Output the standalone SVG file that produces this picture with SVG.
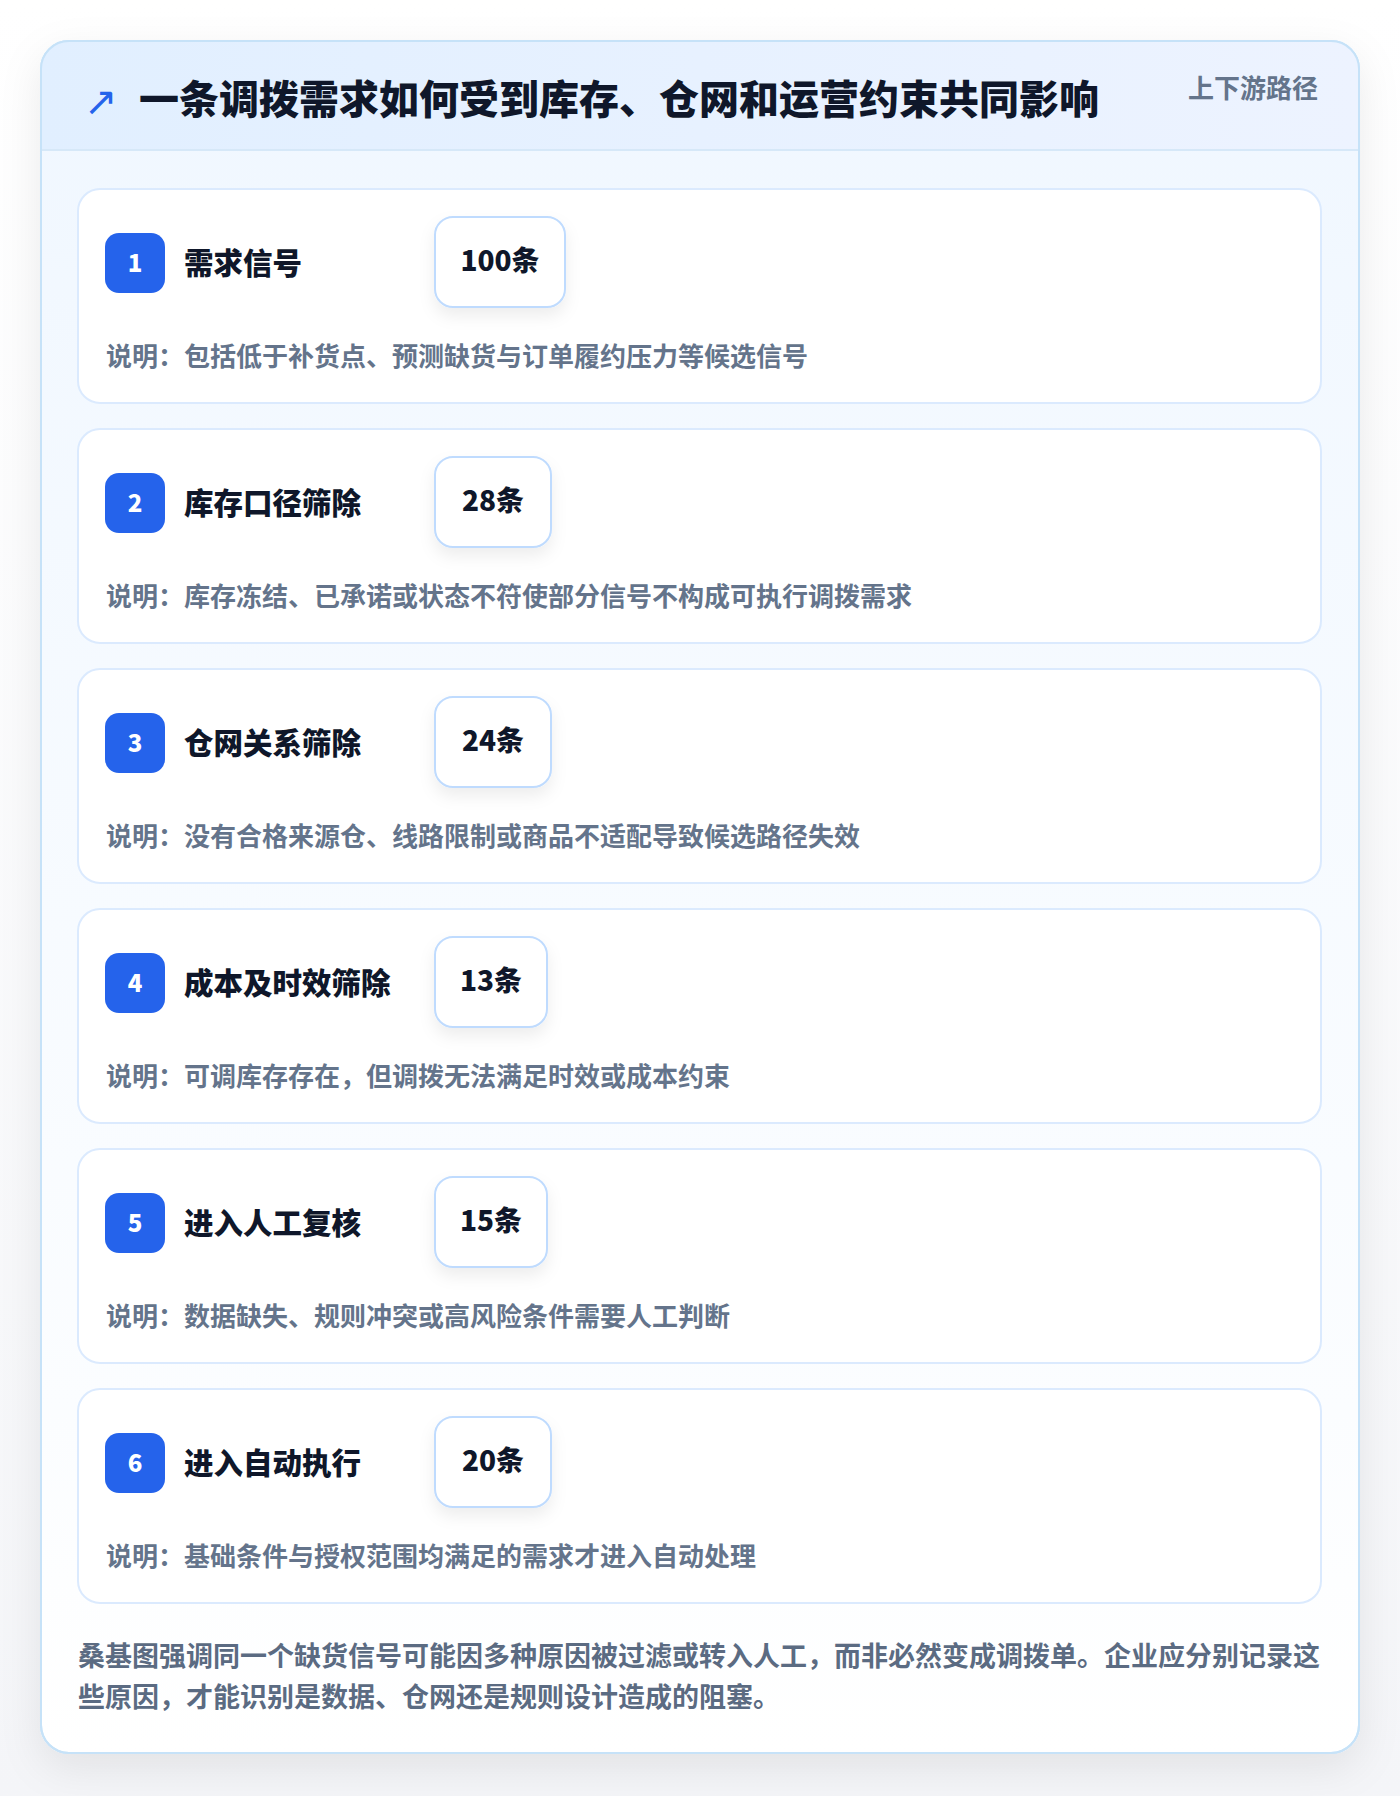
<svg xmlns="http://www.w3.org/2000/svg" width="1400" height="1796" viewBox="0 0 1400 1796">
<defs>
<linearGradient id="pageBg" x1="0" y1="0" x2="0" y2="1"><stop offset="0" stop-color="#ffffff"/><stop offset="1" stop-color="#f4f5f8"/></linearGradient>
<linearGradient id="hdrBg" x1="0" y1="0" x2="1" y2="0"><stop offset="0" stop-color="#e1efff"/><stop offset="1" stop-color="#edf3ff"/></linearGradient>
<linearGradient id="bodyBg" x1="0" y1="0" x2="0" y2="1"><stop offset="0" stop-color="#f0f7ff"/><stop offset="0.8" stop-color="#fbfdff"/><stop offset="1" stop-color="#ffffff"/></linearGradient>
<filter id="cardShadow" x="-10%" y="-10%" width="120%" height="120%"><feDropShadow dx="0" dy="14" stdDeviation="20" flood-color="#0f172a" flood-opacity="0.08"/></filter>
<filter id="boxShadow" x="-30%" y="-30%" width="160%" height="170%"><feDropShadow dx="0" dy="8" stdDeviation="8" flood-color="#0f172a" flood-opacity="0.07"/></filter>
<clipPath id="cardClip"><rect x="41" y="41" width="1318" height="1712" rx="28"/></clipPath>
</defs>
<style>
text{font-family:"Noto Sans CJK SC","Noto Sans",sans-serif;font-weight:700}
.title{font-size:40px;fill:#0f172a;font-weight:900}
.tag{font-size:26px;fill:#64748b}
.step{fill:#ffffff;stroke:#dbeafe;stroke-width:2}
.badge{fill:#2563eb}
.num{font-size:24px;fill:#ffffff;font-weight:900}
.stitle{font-size:29.5px;fill:#0f172a;font-weight:900}
.cbox{fill:#ffffff;stroke:#bfdbfe;stroke-width:2}
.count{font-size:28px;fill:#0f172a;font-weight:900}
.desc{font-size:26px;fill:#64748b}
.foot{font-size:27px;fill:#5b6b82}
</style>
<rect x="0" y="0" width="1400" height="1796" fill="url(#pageBg)"/>
<g id="card">
<rect x="41" y="41" width="1318" height="1712" rx="28" fill="url(#bodyBg)" stroke="#c6e2f8" stroke-width="2" filter="url(#cardShadow)"/>
<g clip-path="url(#cardClip)">
<rect x="41" y="41" width="1318" height="110" fill="url(#hdrBg)"/>
<line x1="41" y1="150" x2="1359" y2="150" stroke="#d6e8f8" stroke-width="2"/>
</g>
<rect x="41" y="41" width="1318" height="1712" rx="28" fill="none" stroke="#c6e2f8" stroke-width="2"/>
</g>
<g id="header">
<text x="84" y="115" style="font-family:'DejaVu Sans',sans-serif;font-size:40px;fill:#2563eb;font-weight:400">↗</text>
<text class="title" x="139" y="114">一条调拨需求如何受到库存、仓网和运营约束共同影响</text>
<text class="tag" x="1318" y="98" text-anchor="end">上下游路径</text>
</g>
<g id="step1">
<rect class="step" x="78" y="189" width="1243" height="214" rx="22"/>
<rect class="badge" x="105" y="233" width="60" height="60" rx="14"/>
<text class="num" x="135" y="272" text-anchor="middle">1</text>
<text class="stitle" x="184" y="274">需求信号</text>
<rect class="cbox" x="435" y="217" width="130" height="90" rx="18" filter="url(#boxShadow)"/>
<text class="count" x="500" y="271" text-anchor="middle">100条</text>
<text class="desc" x="106" y="366">说明：包括低于补货点、预测缺货与订单履约压力等候选信号</text>
</g>
<g id="step2">
<rect class="step" x="78" y="429" width="1243" height="214" rx="22"/>
<rect class="badge" x="105" y="473" width="60" height="60" rx="14"/>
<text class="num" x="135" y="512" text-anchor="middle">2</text>
<text class="stitle" x="184" y="514">库存口径筛除</text>
<rect class="cbox" x="435" y="457" width="116" height="90" rx="18" filter="url(#boxShadow)"/>
<text class="count" x="493" y="511" text-anchor="middle">28条</text>
<text class="desc" x="106" y="606">说明：库存冻结、已承诺或状态不符使部分信号不构成可执行调拨需求</text>
</g>
<g id="step3">
<rect class="step" x="78" y="669" width="1243" height="214" rx="22"/>
<rect class="badge" x="105" y="713" width="60" height="60" rx="14"/>
<text class="num" x="135" y="752" text-anchor="middle">3</text>
<text class="stitle" x="184" y="754">仓网关系筛除</text>
<rect class="cbox" x="435" y="697" width="116" height="90" rx="18" filter="url(#boxShadow)"/>
<text class="count" x="493" y="751" text-anchor="middle">24条</text>
<text class="desc" x="106" y="846">说明：没有合格来源仓、线路限制或商品不适配导致候选路径失效</text>
</g>
<g id="step4">
<rect class="step" x="78" y="909" width="1243" height="214" rx="22"/>
<rect class="badge" x="105" y="953" width="60" height="60" rx="14"/>
<text class="num" x="135" y="992" text-anchor="middle">4</text>
<text class="stitle" x="184" y="994">成本及时效筛除</text>
<rect class="cbox" x="435" y="937" width="112" height="90" rx="18" filter="url(#boxShadow)"/>
<text class="count" x="491" y="991" text-anchor="middle">13条</text>
<text class="desc" x="106" y="1086">说明：可调库存存在，但调拨无法满足时效或成本约束</text>
</g>
<g id="step5">
<rect class="step" x="78" y="1149" width="1243" height="214" rx="22"/>
<rect class="badge" x="105" y="1193" width="60" height="60" rx="14"/>
<text class="num" x="135" y="1232" text-anchor="middle">5</text>
<text class="stitle" x="184" y="1234">进入人工复核</text>
<rect class="cbox" x="435" y="1177" width="112" height="90" rx="18" filter="url(#boxShadow)"/>
<text class="count" x="491" y="1231" text-anchor="middle">15条</text>
<text class="desc" x="106" y="1326">说明：数据缺失、规则冲突或高风险条件需要人工判断</text>
</g>
<g id="step6">
<rect class="step" x="78" y="1389" width="1243" height="214" rx="22"/>
<rect class="badge" x="105" y="1433" width="60" height="60" rx="14"/>
<text class="num" x="135" y="1472" text-anchor="middle">6</text>
<text class="stitle" x="184" y="1474">进入自动执行</text>
<rect class="cbox" x="435" y="1417" width="116" height="90" rx="18" filter="url(#boxShadow)"/>
<text class="count" x="493" y="1471" text-anchor="middle">20条</text>
<text class="desc" x="106" y="1566">说明：基础条件与授权范围均满足的需求才进入自动处理</text>
</g>
<g id="connectors"></g>
<g id="footer">
<text class="foot" x="78" y="1666">桑基图强调同一个缺货信号可能因多种原因被过滤或转入人工，而非必然变成调拨单。企业应分别记录这</text>
<text class="foot" x="78" y="1707">些原因，才能识别是数据、仓网还是规则设计造成的阻塞。</text>
</g>
</svg>
